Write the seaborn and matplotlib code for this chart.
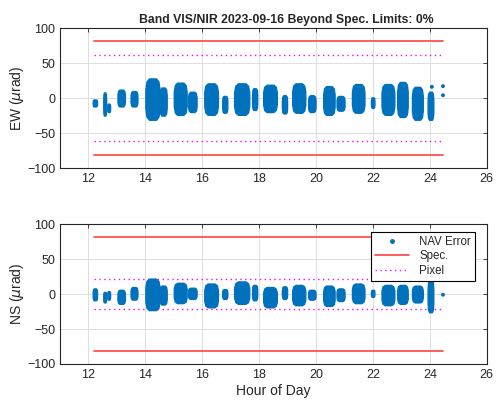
import numpy as np
import pandas as pd
import seaborn as sns
import matplotlib.pyplot as plt
from matplotlib.lines import Line2D

# burst of NAV error samples: start/end hour and value envelope (urad)
burst_start = [12.15, 12.52, 12.66, 13.02, 13.48, 14.00, 14.50, 15.00, 15.50, 16.07, 16.70,
               17.12, 17.75, 18.14, 18.80, 19.16, 19.72, 20.25, 20.72, 21.26, 21.93, 22.30,
               22.85, 23.37, 23.92]
burst_end = [12.30, 12.62, 12.76, 13.28, 13.72, 14.50, 14.75, 15.45, 15.80, 16.55, 16.88,
             17.65, 17.93, 18.62, 18.98, 19.62, 19.98, 20.65, 21.00, 21.70, 22.05, 22.75,
             23.22, 23.75, 24.12]
ew_low = [-12, -25, -20, -12, -12, -31, -25, -24, -20, -24, -21,
          -24, -17, -20, -22, -21, -20, -24, -18, -21, -14, -24,
          -27, -31, -31]
ew_high = [-2, 8, -8, 12, 10, 28, 15, 22, 9, 21, 3,
           21, 14, 19, 4, 21, 4, 17, 3, 20, 1, 20,
           23, 16, 9]
ns_low = [-9, -12, -8, -14, -8, -23, -15, -13, -7, -19, -7,
          -14, -9, -19, -7, -16, -8, -17, -10, -13, -4, -16,
          -14, -12, -26]
ns_high = [8, 3, 4, 6, 10, 22, 12, 16, 9, 15, 7,
           18, 13, 10, 11, 13, 6, 12, 8, 15, 6, 13,
           13, 12, 20]

# isolated samples
ew_pts_t = [24.07, 24.07, 24.46, 24.46]
ew_pts_v = [16, 5, 17, 4]
ns_pts_t = [24.46]
ns_pts_v = [-1]

spec_t = [12.18, 24.45]
spec_limit = 82
pixel_ew = 62
pixel_ns = 21

title = 'Band VIS/NIR 2023-09-16 Beyond Spec. Limits: 0%'

sns.set_style('white')
plt.rcParams['font.family'] = ['Liberation Sans', 'DejaVu Sans']
plt.rcParams['mathtext.fontset'] = 'dejavusans'

blue = '#0072BD'
red = '#FF4F4F'
mag = '#FF00FF'
dark = '#262626'

fig = plt.figure(figsize=(4.98, 4.01), dpi=100)
ax1 = fig.add_axes([0.1205, 0.581, 0.857, 0.349])
ax2 = fig.add_axes([0.1205, 0.0923, 0.857, 0.349])

# rounded outline for a dense cloud of samples
shape_x = [0, 0.08, 0.25, 0.75, 0.92, 1]
shape_k = [0.45, 0.85, 1, 1, 0.85, 0.45]


def draw_bursts(ax, low, high):
    for t0, t1, lo, hi in zip(burst_start, burst_end, low, high):
        w = t1 - t0
        mid = (lo + hi) / 2
        half = (hi - lo) / 2
        xs = [t0 + f * w for f in shape_x]
        ax.fill_between(xs, [mid - k * half for k in shape_k],
                        [mid + k * half for k in shape_k],
                        color=blue, lw=1.0, edgecolor=blue, zorder=3)


for ax, low, high, pt_t, pt_v, pix, lab in [
        (ax1, ew_low, ew_high, ew_pts_t, ew_pts_v, pixel_ew, r'EW ($\mu$rad)'),
        (ax2, ns_low, ns_high, ns_pts_t, ns_pts_v, pixel_ns, r'NS ($\mu$rad)')]:
    draw_bursts(ax, low, high)
    sns.scatterplot(x=pt_t, y=pt_v, ax=ax, color=blue, s=8, edgecolor='none', zorder=3)
    for sgn in (1, -1):
        sns.lineplot(x=spec_t, y=[sgn * spec_limit] * 2, ax=ax, color=red, lw=1.3, zorder=2)
        sns.lineplot(x=spec_t, y=[sgn * pix] * 2, ax=ax, color=mag, lw=1.0,
                     linestyle=(0, (1, 2.5)), zorder=2)
    ax.set_xlim(11, 26)
    ax.set_ylim(-100, 100)
    ax.set_xticks(range(12, 27, 2))
    ax.set_yticks([-100, -50, 0, 50, 100])
    ax.grid(True, color='#dddddd', lw=0.7)
    ax.set_axisbelow(True)
    for s in ax.spines.values():
        s.set_visible(True)
        s.set_color(dark)
        s.set_linewidth(0.8)
    ax.tick_params(direction='in', length=3, width=0.6, labelsize=9,
                   colors=dark, top=True, right=True,
                   labeltop=False, labelright=False)
    ax.set_ylabel(lab, fontsize=10, color=dark, labelpad=1)

ax1.set_title(title, fontsize=8.8, fontweight='bold', pad=4, x=0.53)
ax2.set_xlabel('Hour of Day', fontsize=10, color=dark, labelpad=2)

handles = [Line2D([], [], color=blue, marker='.', ls='none', ms=5),
           Line2D([], [], color=red, lw=1.3),
           Line2D([], [], color=mag, lw=1.0, ls=(0, (1, 2.5)))]
leg = ax2.legend(handles, ['NAV Error', 'Spec.', 'Pixel'], loc='upper right',
                 bbox_to_anchor=(0.972, 0.943), borderaxespad=0, fontsize=8.3,
                 fancybox=False, framealpha=1, edgecolor='black',
                 handlelength=2.9, handletextpad=0.9, labelspacing=0.2, borderpad=0.35)
leg.get_frame().set_linewidth(0.8)

fig.savefig('out.png', dpi=100)
